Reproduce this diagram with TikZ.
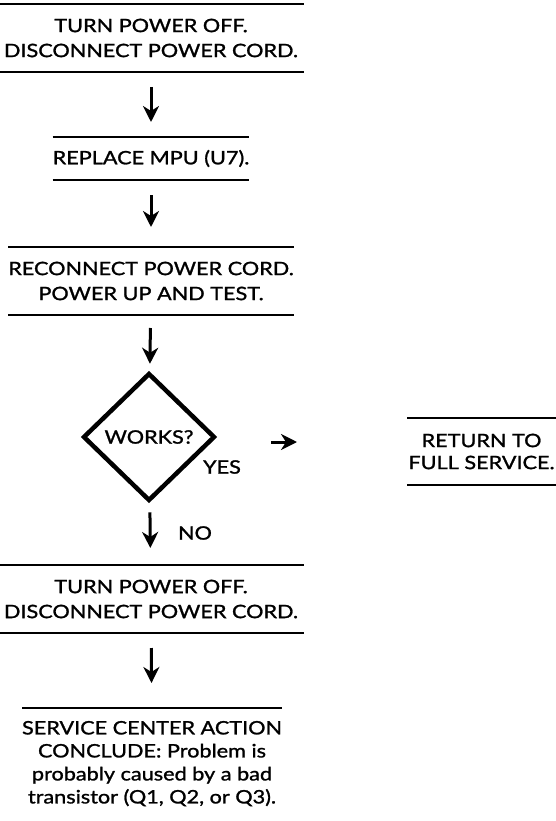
\documentclass[tikz,border=0pt]{standalone}
\usepackage{fontspec}
\setmainfont{Lato}[FakeStretch=1.17, FakeBold=1.3]
\usetikzlibrary{arrows.meta,shapes.geometric}
\begin{document}
\begin{tikzpicture}[x=1pt,y=-1pt,
  txt/.style={font=\fontsize{18.5}{25}\selectfont, align=center, inner sep=0pt, outer sep=0pt},
  stepbox/.style 2 args={txt, minimum width=#1, minimum height=#2},
  rule/.style={line width=2pt},
  arr/.style={line width=3pt, -{Stealth[length=16pt,width=16pt,inset=5pt]}},
  decision/.style={diamond, draw, line width=4.5pt, aspect=1, minimum width=130pt, minimum height=126pt, inner sep=0pt, txt},
  lbl/.style={txt}
]
\useasboundingbox (0,0) rectangle (556,821);

\node[stepbox={305pt}{68pt}] (b1) at (151,38) {TURN POWER OFF.\\DISCONNECT POWER CORD.};
\node[stepbox={195pt}{43pt}] (b2) at (151,158.5) {REPLACE MPU (U7).};
\node[stepbox={285pt}{68pt}] (b3) at (151,281) {RECONNECT POWER CORD.\\POWER UP AND TEST.};
\node[decision] (d) at (149,437) {WORKS?};
\node[stepbox={149pt}{67pt}, font=\fontsize{18.5}{22}\selectfont] (b4) at (481.5,451.5) {RETURN TO\\FULL SERVICE.};
\node[stepbox={305pt}{68pt}] (b5) at (151,599) {TURN POWER OFF.\\DISCONNECT POWER CORD.};
\node[txt, font=\fontsize{18.5}{23}\selectfont, anchor=north, minimum width=247pt] (b6) at (152,721) {SERVICE CENTER ACTION\\CONCLUDE: Problem is\\probably caused by a bad\\transistor (Q1, Q2, or Q3).};

\foreach \b in {b1,b2,b3,b4,b5}{
  \draw[rule] (\b.north west) -- (\b.north east);
  \draw[rule] (\b.south west) -- (\b.south east);
}
\draw[rule] ([yshift=13pt]b6.north west) -- ([yshift=13pt]b6.north east);

\node[lbl] (yes) at (222,467) {YES};
\node[lbl] (no) at (195,533) {NO};

\draw[arr, shorten <=15pt, shorten >=15pt] (b1) -- (b2);
\draw[arr, shorten <=15pt, shorten >=20pt] (b2) -- (b3);
\draw[arr, shorten <=13pt, shorten >=11pt] (b3) -- (d);
\draw[arr, shorten <=57pt, shorten >=110pt] ([yshift=-5pt]d.east) -- ([yshift=9.5pt]b4.west);
\draw[arr, shorten <=13pt, shorten >=17pt] (d) -- (b5);
\draw[arr, shorten <=15pt, shorten >=38pt] (b5) -- (b6);
\end{tikzpicture}
\end{document}
